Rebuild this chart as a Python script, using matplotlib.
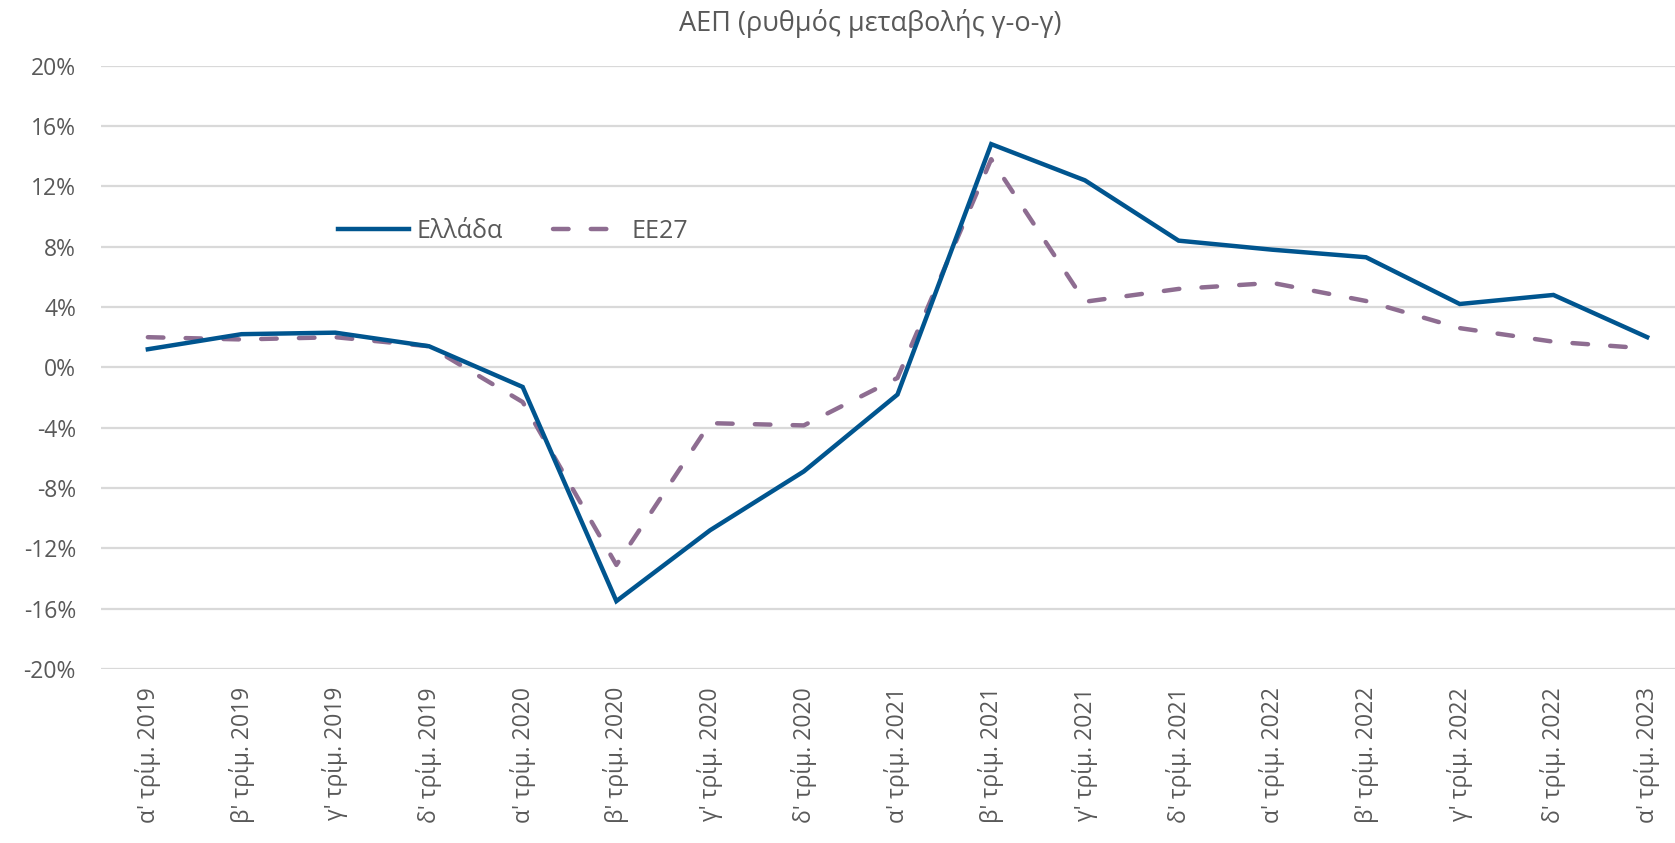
import numpy as np
import matplotlib.pyplot as plt

plt.rcParams['font.family'] = ['Open Sans', 'DejaVu Sans']

quarters = ["α' τρίμ. 2019", "β' τρίμ. 2019", "γ' τρίμ. 2019", "δ' τρίμ. 2019",
            "α' τρίμ. 2020", "β' τρίμ. 2020", "γ' τρίμ. 2020", "δ' τρίμ. 2020",
            "α' τρίμ. 2021", "β' τρίμ. 2021", "γ' τρίμ. 2021", "δ' τρίμ. 2021",
            "α' τρίμ. 2022", "β' τρίμ. 2022", "γ' τρίμ. 2022", "δ' τρίμ. 2022",
            "α' τρίμ. 2023"]
greece = [1.2, 2.2, 2.3, 1.4, -1.3, -15.5, -10.8, -6.9, -1.8, 14.8, 12.4, 8.4,
          7.8, 7.3, 4.2, 4.8, 2.0]
eu27 = [2.0, 1.85, 2.0, 1.4, -2.3, -13.1, -3.7, -3.85, -0.7, 13.8, 4.35, 5.2,
        5.6, 4.4, 2.6, 1.7, 1.25]
yticks = [-20, -16, -12, -8, -4, 0, 4, 8, 12, 16, 20]

grey = '#595959'
fig = plt.figure(figsize=(16.75, 8.43), dpi=100)
ax = fig.add_axes([101 / 1675, 1 - 669 / 843, 1593 / 1675, (669 - 65.7) / 843])

x = np.arange(len(quarters))
ax.plot(x, greece, color='#00558F', lw=3.2, solid_joinstyle='miter', label='Ελλάδα', zorder=3)
ax.plot(x, eu27, color='#8E6D91', lw=3.2, linestyle=(0, (3.5, 5.0)),
        dash_capstyle='round', label='ΕΕ27', zorder=2)

ax.set_xlim(-0.5, len(quarters) - 0.5)
ax.set_ylim(-20, 20)
ax.set_yticks(yticks)
ax.set_yticklabels([f'{v}%' for v in yticks])
ax.set_xticks(x)
ax.set_xticklabels(quarters, rotation=90)
ax.tick_params(axis='y', length=0, pad=18, labelsize=16.5, labelcolor=grey)
ax.tick_params(axis='x', length=0, pad=13, labelsize=16.5, labelcolor=grey)
ax.grid(axis='y', color='#D9D9D9', lw=1.6)
ax.set_axisbelow(True)
for s in ax.spines.values():
    s.set_visible(False)

fig.text(870 / 1675, 1 - 24 / 843, 'ΑΕΠ (ρυθμός μεταβολής γ-ο-γ)', ha='center',
         va='center', fontsize=19.5, color=grey)

leg = ax.legend(loc='center left', bbox_to_anchor=(338 / 1675, 1 - 231.7 / 843),
                bbox_transform=fig.transFigure, ncol=2, frameon=False,
                fontsize=18, handlelength=2.85, handletextpad=0.3,
                columnspacing=2.0, borderaxespad=0, borderpad=0)
for t in leg.get_texts():
    t.set_color(grey)

fig.savefig('out.png', dpi=100)
